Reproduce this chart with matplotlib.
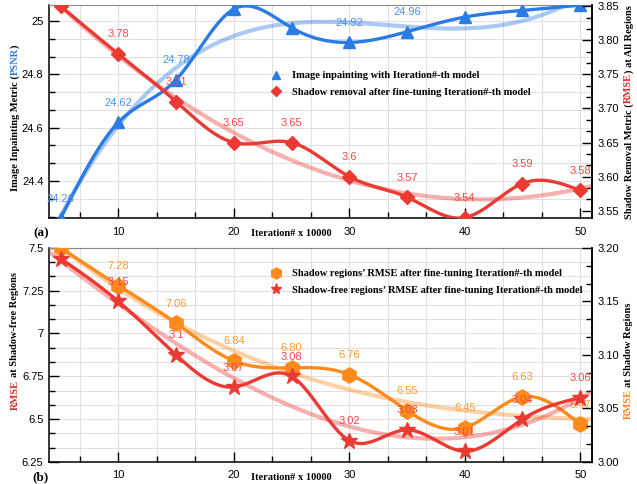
import numpy as np
import matplotlib
matplotlib.use('Agg')
import matplotlib.pyplot as plt
from matplotlib.ticker import MultipleLocator, FuncFormatter
from matplotlib.lines import Line2D

plt.rcParams['font.family'] = 'Liberation Sans'

iters = [5, 10, 15, 20, 25, 30, 35, 40, 45, 50]

# panel (a)
psnr = [24.26, 24.62, 24.78, 25.045, 24.975, 24.92, 24.96, 25.015, 25.04, 25.06]
psnr_lbl = ['24.26', '24.62', '24.78', '', '', '24.92', '24.96', '', '', '']
rmse_all = [3.85, 3.78, 3.71, 3.65, 3.65, 3.60, 3.57, 3.54, 3.59, 3.58]
rmse_all_lbl = ['', '3.78', '3.71', '3.65', '3.65', '3.6', '3.57', '3.54', '3.59', '3.58']

# panel (b)
rmse_sh = [7.50, 7.28, 7.06, 6.84, 6.80, 6.76, 6.55, 6.45, 6.63, 6.47]
rmse_sh_lbl = ['', '7.28', '7.06', '6.84', '6.80', '6.76', '6.55', '6.45', '6.63', '6.47']
rmse_free = [3.19, 3.15, 3.10, 3.07, 3.08, 3.02, 3.03, 3.01, 3.04, 3.06]
rmse_free_lbl = ['', '3.15', '3.1', '3.07', '3.08', '3.02', '3.03', '3.01', '3.04', '3.06']

BLUE = '#2b7be4'
RED = '#eb3a34'
ORANGE = '#ff8a1c'
SERIF = 'Liberation Serif'


def spline(x, y, n=400):
    # natural cubic spline, only for drawing the smooth line
    x = np.asarray(x, float)
    y = np.asarray(y, float)
    h = np.diff(x)
    m = len(x)
    A = np.zeros((m, m))
    r = np.zeros(m)
    A[0, 0] = A[-1, -1] = 1
    for i in range(1, m - 1):
        A[i, i - 1] = h[i - 1]
        A[i, i] = 2 * (h[i - 1] + h[i])
        A[i, i + 1] = h[i]
        r[i] = 3 * ((y[i + 1] - y[i]) / h[i] - (y[i] - y[i - 1]) / h[i - 1])
    c = np.linalg.solve(A, r)
    xs = np.linspace(x[0], x[-1], n)
    k = np.clip(np.searchsorted(x, xs) - 1, 0, m - 2)
    dx = xs - x[k]
    b = (y[k + 1] - y[k]) / h[k] - h[k] * (2 * c[k] + c[k + 1]) / 3
    d = (c[k + 1] - c[k]) / (3 * h[k])
    return xs, y[k] + b * dx + c[k] * dx ** 2 + d * dx ** 3


def series(ax, y, lbl, color, lcolor, marker, ms, deg):
    xt = np.linspace(4, 51, 300)
    ax.plot(xt, np.polyval(np.polyfit(iters, y, deg), xt), color=color, alpha=0.4, lw=3, zorder=2)
    xs, ys = spline(iters, y)
    ax.plot(xs, ys, color=color, lw=2.4, zorder=3)
    ax.plot(iters, y, ls='none', marker=marker, ms=ms, color=color, zorder=4)
    for xi, yi, s in zip(iters, y, lbl):
        if s:
            ax.annotate(s, (xi, yi), xytext=(0, 14), textcoords='offset points',
                        ha='center', va='center', color=lcolor, fontsize=8, zorder=5,
                        annotation_clip=False, clip_on=False)


def style(ax, ax2, ymaj, ymaj2, fmt1, fmt2):
    ax.set_xlim(4, 51)
    ax.xaxis.set_major_locator(MultipleLocator(10))
    ax.xaxis.set_minor_locator(MultipleLocator(10 / 3))
    ax.yaxis.set_major_locator(MultipleLocator(ymaj))
    ax.yaxis.set_minor_locator(MultipleLocator(ymaj / 3))
    ax2.yaxis.set_major_locator(MultipleLocator(ymaj2))
    ax2.yaxis.set_minor_locator(MultipleLocator(ymaj2 / 3))
    ax.yaxis.set_major_formatter(FuncFormatter(lambda v, p: fmt1 % v))
    ax2.yaxis.set_major_formatter(FuncFormatter(lambda v, p: fmt2 % v))
    ax.grid(which='both', color='#e0e0e0', lw=0.8)
    ax.set_axisbelow(True)
    ax.tick_params(which='both', direction='in', top=False, right=False, labelsize=8, width=1)
    ax.tick_params(which='major', length=7)
    ax.tick_params(which='minor', length=4)
    ax.tick_params(axis='x', pad=6)
    ax.tick_params(axis='y', pad=4)
    ax2.tick_params(which='both', direction='in', labelsize=8, width=1, pad=4)
    ax2.tick_params(which='major', length=7)
    ax2.tick_params(which='minor', length=4)
    ax.spines['top'].set_color('#8a8a8a')
    for s in ('left', 'right', 'bottom'):
        ax.spines[s].set_color('black')
        ax.spines[s].set_linewidth(1.1)
    # the twin only draws its right spine, so labels sit above the left one
    for s in ('left', 'bottom', 'top'):
        ax2.spines[s].set_visible(False)
    ax2.spines['right'].set_color('black')
    ax2.spines['right'].set_linewidth(1.1)


def ylabel_parts(fig, x, yc, parts, size=7.5):
    r = fig.canvas.get_renderer()
    H = fig.get_figheight() * fig.dpi
    kw = dict(rotation=90, ha='center', va='bottom', family=SERIF, weight='bold', size=size)
    a = fig.text(0, 0, 'a a', **kw)
    b = fig.text(0, 0, 'aa', **kw)
    sp = a.get_window_extent(r).height - b.get_window_extent(r).height
    a.remove()
    b.remove()
    items = []
    for s, c in parts:
        t = fig.text(x, 0, s.strip(), color=c, **kw)
        lead = len(s) - len(s.lstrip())
        trail = len(s) - len(s.rstrip())
        items.append((t, lead * sp, t.get_window_extent(r).height, trail * sp))
    total = sum(i[1] + i[2] + i[3] for i in items)
    y = yc * H - total / 2
    for t, l, h, tr in items:
        y += l
        t.set_y(y / H)
        y += h + tr


fig = plt.figure(figsize=(6.37, 4.84), dpi=100)
axa = fig.add_axes([0.077, 0.549, 0.852, 0.441])
axa2 = axa.twinx()
axb = fig.add_axes([0.077, 0.0455, 0.852, 0.4425])
axb2 = axb.twinx()

series(axa, psnr, psnr_lbl, BLUE, '#4b90ef', '^', 9, 3)
series(axa2, rmse_all, rmse_all_lbl, RED, '#f04b48', 'D', 7.5, 2)
axa.set_ylim(24.26, 25.061)
axa2.set_ylim(3.539, 3.852)
style(axa, axa2, 0.2, 0.05, '%g', '%.2f')

series(axb, rmse_sh, rmse_sh_lbl, ORANGE, '#ff9a35', 'h', 11, 3)
series(axb2, rmse_free, rmse_free_lbl, RED, '#f0484f', '*', 12, 3)
axb.set_ylim(6.25, 7.5)
axb2.set_ylim(3.0, 3.2)
style(axb, axb2, 0.25, 0.05, '%g', '%.2f')

leg_kw = dict(loc='upper left', frameon=False, borderpad=0, handlelength=1, handletextpad=1.0,
              labelspacing=0.7, prop={'family': SERIF, 'weight': 'bold', 'size': 7.5})
ha = [Line2D([], [], ls='none', marker='^', color=BLUE, ms=6),
      Line2D([], [], ls='none', marker='D', color=RED, ms=5.5)]
axa2.legend(ha, ['Image inpainting with Iteration#-th model',
                 'Shadow removal after fine-tuning Iteration#-th model'],
            bbox_to_anchor=(0.3995, 0.715), **leg_kw)
hb = [Line2D([], [], ls='none', marker='h', color=ORANGE, ms=8),
      Line2D([], [], ls='none', marker='*', color=RED, ms=8)]
axb2.legend(hb, ["Shadow regions\u2019 RMSE after fine-tuning Iteration#-th model",
                 "Shadow-free regions\u2019 RMSE after fine-tuning Iteration#-th model"],
            bbox_to_anchor=(0.3995, 0.925), **leg_kw)

for ax, tag in ((axa, '(a)'), (axb, '(b)')):
    ax.annotate('Iteration# x 10000', (0.446, 0), xycoords='axes fraction', xytext=(0, -11),
                textcoords='offset points', ha='center', va='center',
                family=SERIF, weight='bold', fontsize=7.5)
    ax.annotate(tag, (0, 0), xycoords='axes fraction', xytext=(-6, -11),
                textcoords='offset points', ha='center', va='center',
                family=SERIF, weight='bold', fontsize=9.5)

ylabel_parts(fig, 0.0235, 0.757, [('Image Inpainting Metric (', 'black'), ('PSNR', BLUE), (')', 'black')])
ylabel_parts(fig, 0.987, 0.768, [('Shadow Removal Metric (', 'black'), ('RMSE', '#d0302c'),
                                 (') at All Regions', 'black')])
ylabel_parts(fig, 0.0235, 0.296, [('RMSE', '#d0302c'), (' at Shadow-free Regions', 'black')])
ylabel_parts(fig, 0.987, 0.2545, [('RMSE', ORANGE), (' at Shadow Regions', 'black')])

fig.savefig('out.png', dpi=100)
